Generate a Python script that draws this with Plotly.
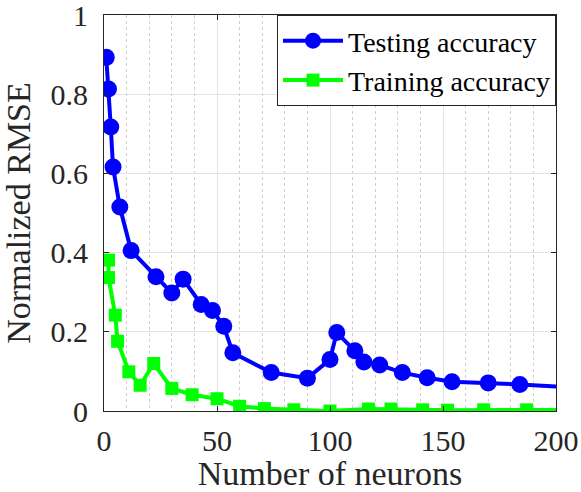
import plotly.graph_objects as go

test_x = [1, 2, 3, 4, 7, 12, 23, 30, 35, 43, 48, 53, 57, 74, 90,
          100, 103, 111, 115, 122, 132, 143, 154, 170, 184, 215]
test_y = [0.893, 0.813, 0.717, 0.616, 0.515, 0.405, 0.339, 0.298, 0.333, 0.269, 0.254, 0.214, 0.147, 0.097, 0.083,
          0.130, 0.198, 0.152, 0.124, 0.116, 0.097, 0.084, 0.074, 0.071, 0.067, 0.057]

train_x = [2, 2, 5, 6, 11, 16, 22, 30, 39, 50, 60, 71, 84,
           100, 117, 127, 141, 152, 168, 187, 215]
train_y = [0.381, 0.337, 0.242, 0.176, 0.099, 0.065, 0.120, 0.057, 0.041, 0.031, 0.012, 0.006, 0.003,
           0.000, 0.005, 0.005, 0.003, 0.002, 0.003, 0.003, 0.003]

x_ticks = [0, 50, 100, 150, 200]
y_ticks = [0, 0.2, 0.4, 0.6, 0.8, 1]
y_tick_text = ["0", "0.2", "0.4", "0.6", "0.8", "1"]

FONT = "Liberation Serif"
TICK_SIZE = 30
TITLE_SIZE = 34
LEGEND_SIZE = 28

fig = go.Figure()
fig.add_trace(go.Scatter(
    x=test_x, y=test_y, mode="lines+markers", name="Testing accuracy",
    line=dict(color="#0000ff", width=4),
    marker=dict(symbol="circle", size=17, color="#0000ff"),
))
fig.add_trace(go.Scatter(
    x=train_x, y=train_y, mode="lines+markers", name="Training accuracy",
    line=dict(color="#00ff00", width=4),
    marker=dict(symbol="square", size=13, color="#00ff00"),
))

axis_common = dict(
    showline=True, linecolor="#262626", linewidth=1, mirror="ticks",
    ticks="inside", ticklen=5, tickcolor="#262626",
    showgrid=True, gridcolor="#e3e3e3", gridwidth=1,
    zeroline=False, automargin=False, ticklabeloverflow="allow",
    tickfont=dict(family=FONT, size=TICK_SIZE, color="#262626"),
)

fig.update_xaxes(
    range=[0, 200], tickvals=x_ticks, ticklabelstandoff=3,
    title=dict(text="Number of neurons", font=dict(family=FONT, size=TITLE_SIZE, color="#262626"), standoff=3),
    minor=dict(dtick=10, showgrid=True, gridcolor="#d0d0d0", griddash="dot", gridwidth=1, ticks=""),
    **axis_common,
)
fig.update_yaxes(
    range=[0, 1], tickvals=y_ticks, ticktext=y_tick_text, ticklabelstandoff=9,
    title=dict(text="Normalized RMSE", font=dict(family=FONT, size=TITLE_SIZE, color="#262626"), standoff=10),
    **axis_common,
)

fig.update_layout(
    width=581, height=492,
    margin=dict(l=104, r=25, t=15, b=81, autoexpand=False),
    plot_bgcolor="white", paper_bgcolor="white",
    font=dict(family=FONT, color="#262626"),
    legend=dict(
        x=1, y=1, xanchor="right", yanchor="top",
        bgcolor="white", bordercolor="#262626", borderwidth=1,
        font=dict(family=FONT, size=LEGEND_SIZE, color="black"),
        tracegroupgap=0, itemwidth=60,
    ),
    showlegend=True,
)

fig.write_html("out.html", config={"displayModeBar": False},
               post_script="document.body.style.margin='0px';")
